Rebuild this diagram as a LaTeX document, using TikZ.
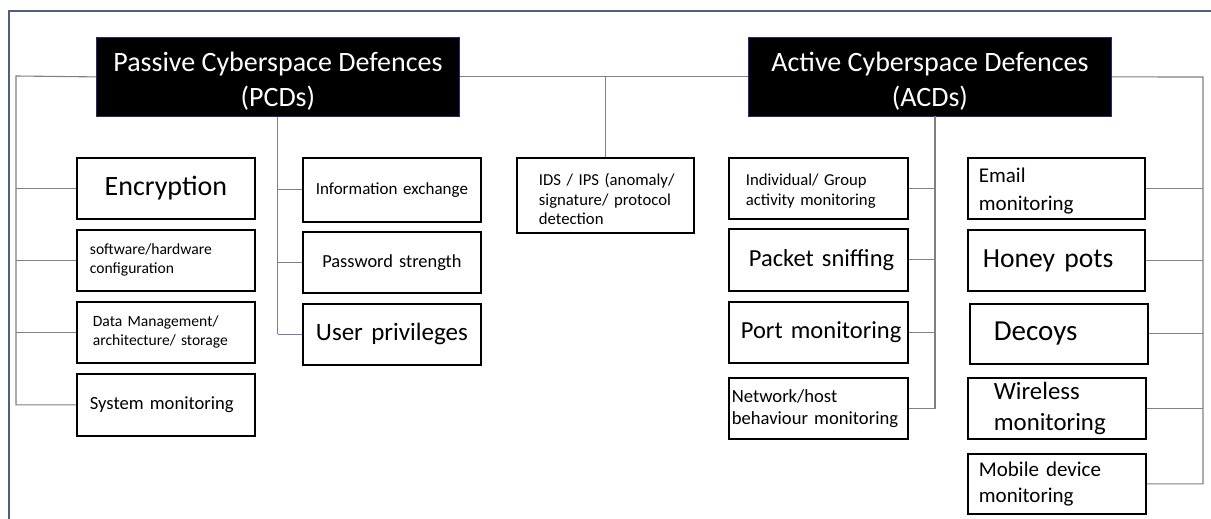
\documentclass[tikz,border=0pt]{standalone}
\usepackage{fontspec}
\setmainfont{Carlito}
\usetikzlibrary{calc}
\definecolor{framegray}{RGB}{79,95,124}
\definecolor{linkgray}{RGB}{128,128,128}
\definecolor{headblue}{RGB}{40,40,120}
\definecolor{upblue}{RGB}{110,120,200}
\tikzstyle{head} = [rectangle, anchor=north west, fill=black, draw=headblue, line width=0.8pt, text=white, align=center, minimum width=363pt, minimum height=79pt, font=\fontsize{28}{35}\selectfont]
\tikzstyle{leaf} = [rectangle, anchor=north west, draw=black, line width=1.8pt, inner xsep=0pt, inner ysep=0pt, text width=178pt, minimum height=61pt, align=left]
\tikzstyle{link} = [draw=linkgray, line width=1.1pt]
\tikzset{pad/.style={execute at begin node={\leftskip=#1}}}

\begin{document}
\begin{tikzpicture}[x=1pt,y=-1pt]
	\useasboundingbox (0,0) rectangle (1211,519);
	% outer frame
	\draw[framegray, line width=2.5pt] (9,519) -- (9,11) -- (1211,11);
	% headers
	\node (PCD) [head] at (96,37) {\rule{0pt}{29pt}Passive Cyberspace Defences\\(PCDs)};
	\node (ACD) [head] at (748,37) {\rule{0pt}{29pt}Active Cyberspace Defences\\(ACDs)};
	% passive, left column
	\node (enc) [leaf, align=center, font=\fontsize{28}{32}\selectfont] at (76,157) {Encryption};
	\node (sw) [leaf, pad=13pt, font=\fontsize{15.6}{19}\selectfont] at (76,229) {software/hardware\\configuration};
	\node (dm) [leaf, pad=16pt, font=\fontsize{15.6}{19}\selectfont] at (76,301) {Data Management/\\architecture/ storage};
	\node (sm) [leaf, minimum height=62pt, pad=13pt, font=\fontsize{18.6}{22}\selectfont] at (76,373) {System monitoring};
	% passive, right column
	\node (ie) [leaf, minimum height=64pt, align=center, font=\fontsize{17}{20}\selectfont] at (302,157) {Information exchange};
	\node (pw) [leaf, align=center, font=\fontsize{18.4}{22}\selectfont] at (302,231) {Password strength};
	\node (up) [leaf, align=center, font=\fontsize{25}{30}\selectfont] at (302,303) {User privileges};
	% middle
	\node (IDS) [leaf, text width=177pt, minimum height=75pt, pad=22pt, font=\fontsize{16.7}{19.5}\selectfont] at (516,157) {\rule{0pt}{20pt}IDS / IPS (anomaly/\\signature/ protocol\\detection};
	% active, left column
	\node (ind) [leaf, text width=179pt, pad=17pt, font=\fontsize{16.7}{20}\selectfont] at (728,157) {\rule{0pt}{18pt}Individual/ Group\\activity monitoring};
	\node (pkt) [leaf, text width=179pt, minimum height=62pt, pad=20pt, font=\fontsize{24.5}{29}\selectfont] at (728,228) {Packet sniffing};
	\node (port) [leaf, text width=179pt, pad=12pt, font=\fontsize{24.5}{29}\selectfont] at (728,301) {Port monitoring};
	\node (net) [leaf, text width=179pt, pad=3pt, font=\fontsize{18.6}{22}\selectfont] at (728,377) {Network/host\\behaviour monitoring};
	% active, right column
	\node (email) [leaf, text width=177pt, pad=11pt, font=\fontsize{21}{28}\selectfont] at (967,157) {\strut Email\\monitoring};
	\node (honey) [leaf, text width=177pt, pad=15pt, font=\fontsize{27.6}{32}\selectfont] at (967,229) {Honey pots};
	\node (decoy) [leaf, minimum height=60pt, pad=24pt, font=\fontsize{29}{34}\selectfont] at (969,303) {Decoys};
	\node (wire) [leaf, pad=26pt, font=\fontsize{24.8}{31}\selectfont] at (967,377) {Wireless\\monitoring};
	\node (mob) [leaf, minimum height=60pt, pad=11pt, font=\fontsize{21}{26}\selectfont] at (967,453) {Mobile device\\monitoring};
	% connectors
	\coordinate (L) at (16,76);
	\coordinate (A) at (935,116);
	\coordinate (R) at (1203,77);
	\draw[link] (PCD.west) -- (L) |- (sm.west);
	\foreach \n in {enc,sw,dm}
		\draw[link] (\n.west) -- (\n.west -| L);
	\draw[link] (PCD.south) -- (PCD.south |- up.west);
	\foreach \n in {ie,pw}
		\draw[link] (\n.west) -- (\n.west -| PCD.south);
	\draw[link, draw=upblue] (up.west) -- (up.west -| PCD.south);
	\draw[link] (PCD.east) -- (ACD.west);
	\draw[link] (IDS.north) -- (IDS.north |- PCD.east);
	\draw[link] (A) |- (net.east);
	\foreach \n in {ind,pkt,port}
		\draw[link] (\n.east) -- (\n.east -| A);
	\draw[link] (ACD.east) -- (R) |- (mob.east);
	\foreach \n in {email,honey,decoy,wire}
		\draw[link] (\n.east) -- (\n.east -| R);
\end{tikzpicture}
\end{document}
